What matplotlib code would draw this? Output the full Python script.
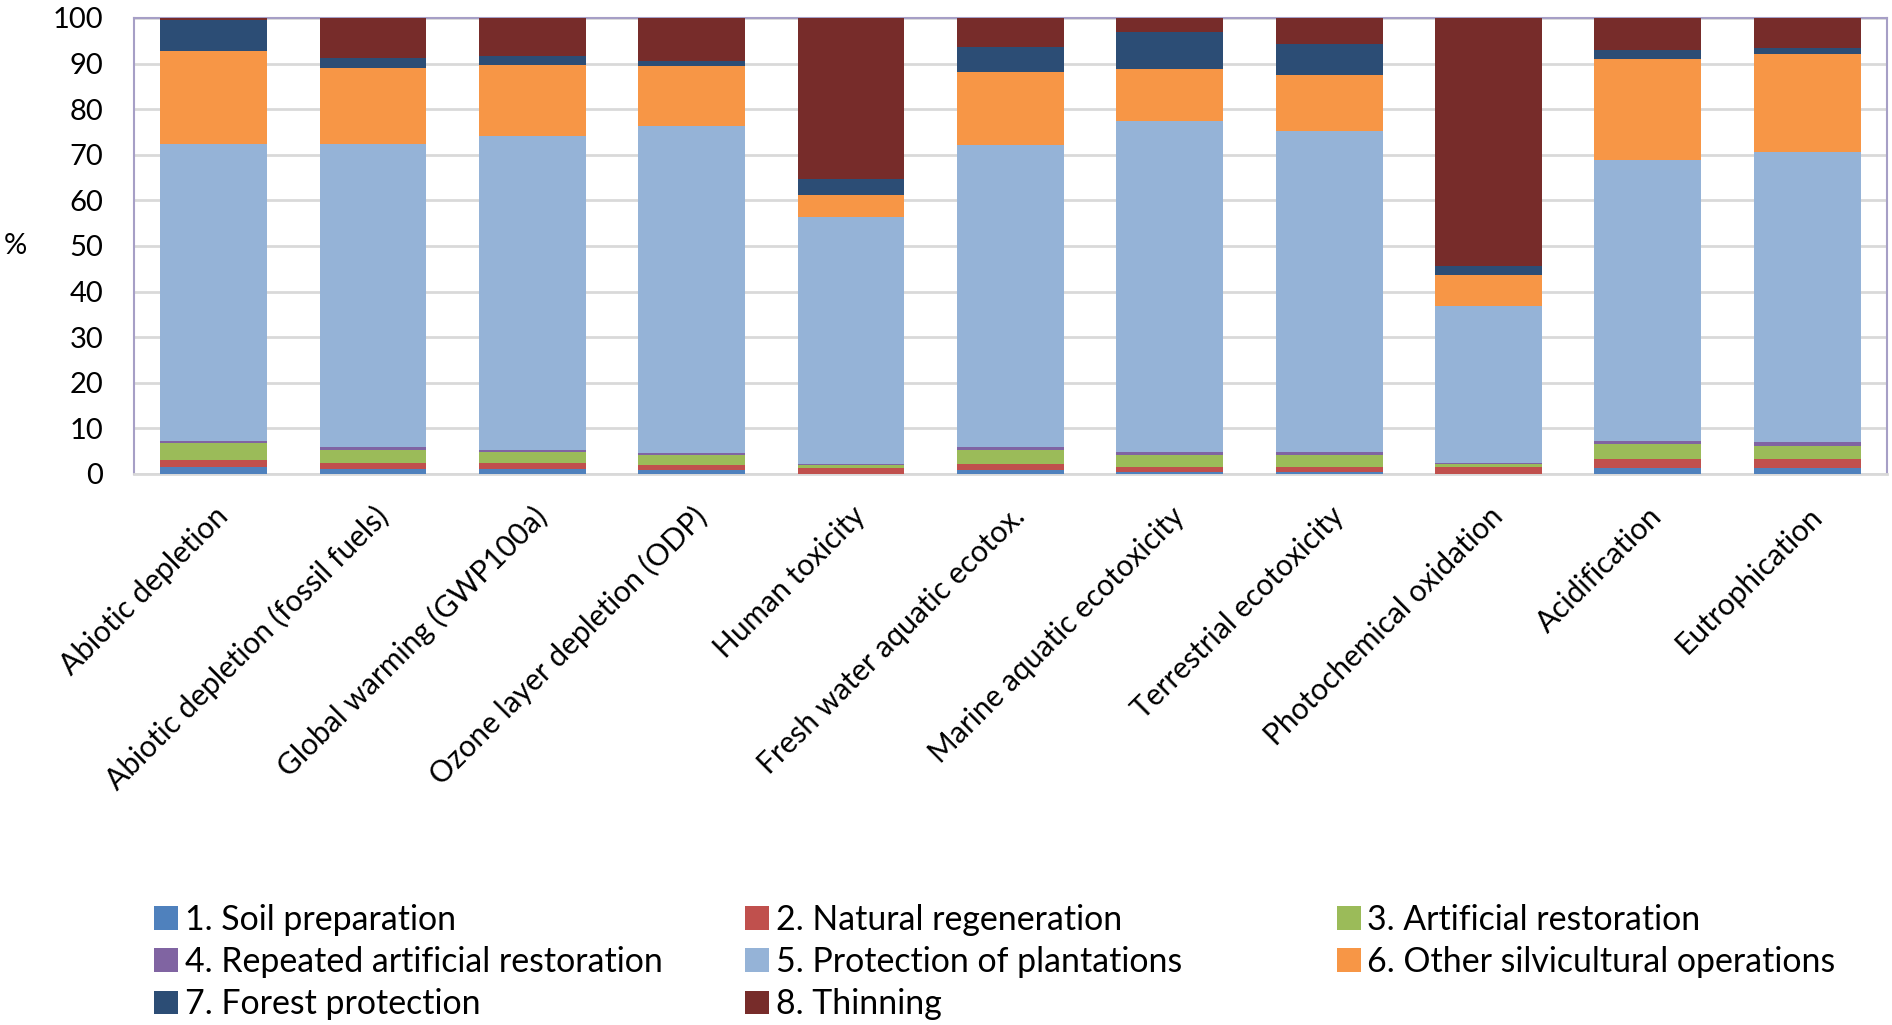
import matplotlib
matplotlib.use("Agg")
import matplotlib.pyplot as plt
import numpy as np

plt.rcParams['font.family'] = ['Lato', 'DejaVu Sans']

categories = ["Abiotic depletion", "Abiotic depletion (fossil fuels)",
              "Global warming (GWP100a)", "Ozone layer depletion (ODP)",
              "Human toxicity", "Fresh water aquatic ecotox.",
              "Marine aquatic ecotoxicity", "Terrestrial ecotoxicity",
              "Photochemical oxidation", "Acidification", "Eutrophication"]

series_names = ["1. Soil preparation", "2. Natural regeneration",
                "3. Artificial restoration", "4. Repeated artificial restoration",
                "5. Protection of plantations", "6. Other silvicultural operations",
                "7. Forest protection", "8. Thinning"]

# cumulative tops (%)
top_soil = [1.45, 1.1, 1.0, 0.8, 0.1, 0.9, 0.5, 0.5, 0.05, 1.25, 1.25]
top_natural = [3.1, 2.5, 2.5, 2.0, 1.3, 2.2, 1.55, 1.6, 1.6, 3.25, 3.25]
top_artificial = [6.7, 5.3, 4.85, 4.2, 1.9, 5.3, 4.15, 4.15, 2.2, 6.6, 6.1]
top_repeated = [7.25, 5.95, 5.3, 4.7, 2.2, 5.85, 4.75, 4.75, 2.5, 7.2, 6.9]
top_protection = [72.3, 72.3, 74.1, 76.4, 56.4, 72.1, 77.4, 75.2, 36.9, 68.9, 70.7]
top_other = [92.8, 89.0, 89.6, 89.4, 61.2, 88.2, 88.8, 87.4, 43.6, 90.9, 92.0]
top_forest = [99.5, 91.2, 91.7, 90.6, 64.7, 93.6, 97.0, 94.2, 45.7, 92.9, 93.3]
top_thinning = [100] * 11

colors = ["#4F81BD", "#C0504D", "#9BBB59", "#8064A2",
          "#95B3D7", "#F79646", "#2C4D75", "#772C2A"]

tops = np.array([top_soil, top_natural, top_artificial, top_repeated,
                 top_protection, top_other, top_forest, top_thinning])
bottoms = np.vstack([np.zeros(len(categories)), tops[:-1]])
heights = tops - bottoms

fig = plt.figure(figsize=(18.92, 10.25), dpi=100)
ax = fig.add_axes([0.0708, 0.5376, 0.9265, 0.4449])

x = np.arange(len(categories))
bars = []
for i in range(len(series_names)):
    b = ax.bar(x, heights[i], bottom=bottoms[i], width=0.67,
               color=colors[i], label=series_names[i], zorder=3)
    bars.append(b)

ax.set_xlim(-0.5, len(categories) - 0.5)
ax.set_ylim(0, 100)
ax.set_yticks(np.arange(0, 101, 10))
ax.yaxis.grid(True, color="#d9d9d9", linewidth=2, zorder=0)
ax.set_axisbelow(True)
ax.tick_params(axis='both', length=0)
ax.tick_params(axis='y', pad=22, labelsize=21)

ax.set_xticks(x)
ax.set_xticklabels(categories, rotation=45, ha='right', rotation_mode='anchor',
                   fontsize=21.5)
ax.tick_params(axis='x', pad=20)

for side in ['left', 'top', 'right']:
    ax.spines[side].set_color("#a69fc6")
    ax.spines[side].set_linewidth(1.5)
ax.spines['bottom'].set_color("#d9d9d9")
ax.spines['bottom'].set_linewidth(2)

fig.text(0.002, 0.76, "%", fontsize=21, va='center', ha='left')

# legend laid out in three equal columns, filled row by row
col_x = [0.0816, 0.394, 0.7066]
for c in range(3):
    idx = [i for i in range(len(series_names)) if i % 3 == c]
    fig.legend([bars[i] for i in idx], [series_names[i] for i in idx],
               loc='upper left', bbox_to_anchor=(col_x[c], 0.118),
               frameon=False, fontsize=24.4, handlelength=0.7,
               handleheight=0.7, handletextpad=0.2, labelspacing=0.3,
               borderpad=0, borderaxespad=0)

fig.savefig("out.png", dpi=100)
